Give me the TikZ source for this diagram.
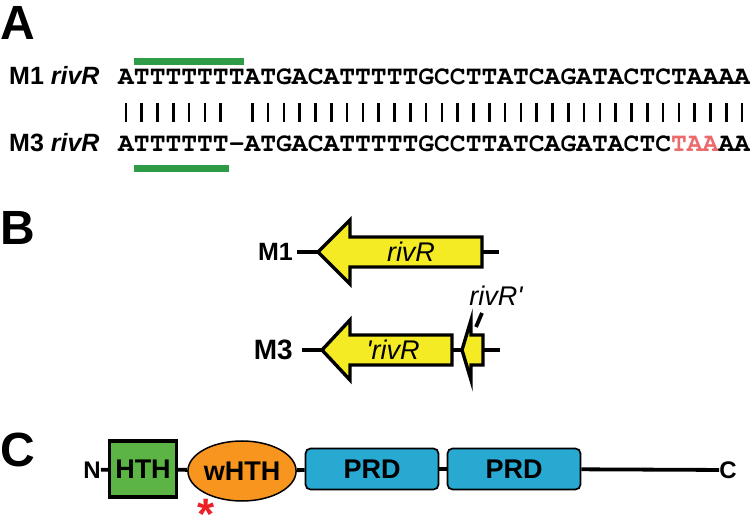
\documentclass[tikz,border=0pt]{standalone}
\usepackage{fontspec}
\setmainfont{Liberation Sans}
\newfontfamily\seqfont{TeX Gyre Cursor}
\usetikzlibrary{positioning,shapes.geometric}

\definecolor{motifgreen}{HTML}{2E9C47}
\definecolor{stopred}{HTML}{EC6A6C}
\definecolor{geneyellow}{HTML}{F4EB24}
\definecolor{hthgreen}{HTML}{5CB445}
\definecolor{whthorange}{HTML}{F7951E}
\definecolor{prdblue}{HTML}{28A9D2}
\definecolor{starred}{HTML}{EC2127}

\begin{document}
\begin{tikzpicture}[
				x=1pt, y=-1pt,
				panel/.style={
					font=\fontsize{48}{48}\selectfont\bfseries,
					anchor=base west,
					inner sep=0pt
					},
				rowlabel/.style={
					font=\fontsize{25}{25}\selectfont\bfseries,
					inner sep=0pt
					},
				seq/.style={
					font=\fontsize{26.33}{26.33}\selectfont\seqfont\bfseries,
					anchor=base west,
					inner sep=0pt
					},
				pair/.style={
					line width=2.6pt
					},
				motif/.style={
					fill=motifgreen
					},
				gene/.style={
					draw,
					line width=3.4pt,
					fill=geneyellow
					},
				backbone/.style={
					draw,
					line width=3.8pt
					},
				genelabel/.style={
					font=\fontsize{27}{27}\selectfont\itshape,
					inner sep=0pt
					},
				domaintext/.style={
					font=\fontsize{27}{27}\selectfont\bfseries,
					inner sep=0pt
					},
				hthbox/.style={
					domaintext,
					rectangle,
					draw,
					line width=3.4pt,
					fill=hthgreen,
					minimum width=67,
					minimum height=56
					},
				whthball/.style={
					domaintext,
					ellipse,
					draw,
					line width=1.5pt,
					fill=whthorange,
					minimum width=104,
					minimum height=60
					},
				prdbox/.style={
					domaintext,
					rectangle,
					rounded corners=5pt,
					draw,
					line width=1.7pt,
					fill=prdblue,
					minimum width=133,
					minimum height=41
					}]
			    \useasboundingbox (0,0) rectangle (750,518);

			    % Panel A: alignment
			    \node [panel] (pa) at (0,40) {A};
			    \node [rowlabel, anchor=base west] (m1seqlab) at (9,85) {M1 \textit{rivR}};
			    \node [rowlabel, anchor=base west] (m3seqlab) at (9,152) {M3 \textit{rivR}};
			    \node [seq] (m1seq) at (118,85) {ATTTTTTTATGACATTTTTGCCTTATCAGATACTCTAAAA};
			    \node [seq] (m3seq) at (118,152) {ATTTTTT-ATGACATTTTTGCCTTATCAGATACTC\textcolor{stopred}{TAA}AA};
			    \foreach \i in {1,...,7,9,10,...,40}
			        \draw [pair] ({118+15.8*(\i-0.5)},103) -- ++(0,19);
			    \fill [motif] ({118+15.8},58) rectangle ({118+15.8*8},65);
			    \fill [motif] ({118+15.8},165) rectangle ({118+15.8*7},172);

			    % Panel B: gene maps
			    \node [panel] (pb) at (0,245) {B};
			    \node [rowlabel, anchor=base east] (m1lab) at (293,261) {M1};
			    \node [rowlabel, anchor=base east, font=\fontsize{28}{28}\selectfont\bfseries] (m3lab) at (293,360) {M3};
			    \coordinate (m1l) at (297,252);
			    \coordinate (m1r) at (499,252);
			    \coordinate (m1tip) at (318,252);
			    \coordinate (m1end) at (482,252);
			    \path [backbone] (m1l) -- (m1tip);
			    \path [backbone] (m1end) -- (m1r);
			    \draw [gene] (482,237) -- (350,237) -- (350,220) -- (m1tip) -- (350,284) -- (350,267) -- (482,267) -- cycle;
			    \node [genelabel] (rivr) at (411,252) {rivR};

			    \coordinate (m3l) at (302,350);
			    \coordinate (m3r) at (500,350);
			    \coordinate (m3tip) at (322,350);
			    \coordinate (m3end) at (452,350);
			    \coordinate (fragtip) at (462,350);
			    \coordinate (fragend) at (483,350);
			    \path [backbone] (m3l) -- (m3tip);
			    \path [backbone] (m3end) -- (fragtip);
			    \path [backbone] (fragend) -- (m3r);
			    \draw [gene] (452,335) -- (350,335) -- (350,320) -- (m3tip) -- (350,380) -- (350,365) -- (452,365) -- cycle;
			    \draw [gene] (483,335) -- (471,335) -- (471,320) -- (fragtip) -- (471,380) -- (471,365) -- (483,365) -- cycle;
			    \node [genelabel] (rivrtr) at (393,350) {\textquotesingle rivR};
			    \node [genelabel] (rivrfrag) at (496,296) {rivR\textquotesingle};
			    \coordinate (tickbot) at (476,327);
			    \coordinate (ticktop) at (482,313);
			    \draw [line width=3.8pt] (tickbot) -- (ticktop);

			    % Panel C: domains
			    \node [panel] (pc) at (0,467) {C};
			    \node [domaintext, font=\fontsize{24}{24}\selectfont\bfseries] (nterm) at (92,470) {N};
			    \node [hthbox] (hth) at (143,469) {HTH};
			    \node [whthball] (whth) at (242,471) {wHTH};
			    \node [prdbox] (prd1) at (372,469) {PRD};
			    \node [prdbox] (prd2) at (514,469) {PRD};
			    \node [domaintext, font=\fontsize{24}{24}\selectfont\bfseries] (cterm) at (728,470) {C};
			    \node [text=starred, font=\fontsize{44}{44}\selectfont\bfseries, anchor=base] (star) at (206,514) {\raisebox{-16pt}[\height][0pt]{*}};

			    % Draw edges
			    \path [backbone] (nterm) -- (hth);
			    \path [backbone] (hth) -- (whth);
			    \path [backbone] (whth) -- (prd1);
			    \path [backbone] (prd1) -- (prd2);
			    \path [backbone] (prd2) -- (cterm);
			\end{tikzpicture}
\end{document}
